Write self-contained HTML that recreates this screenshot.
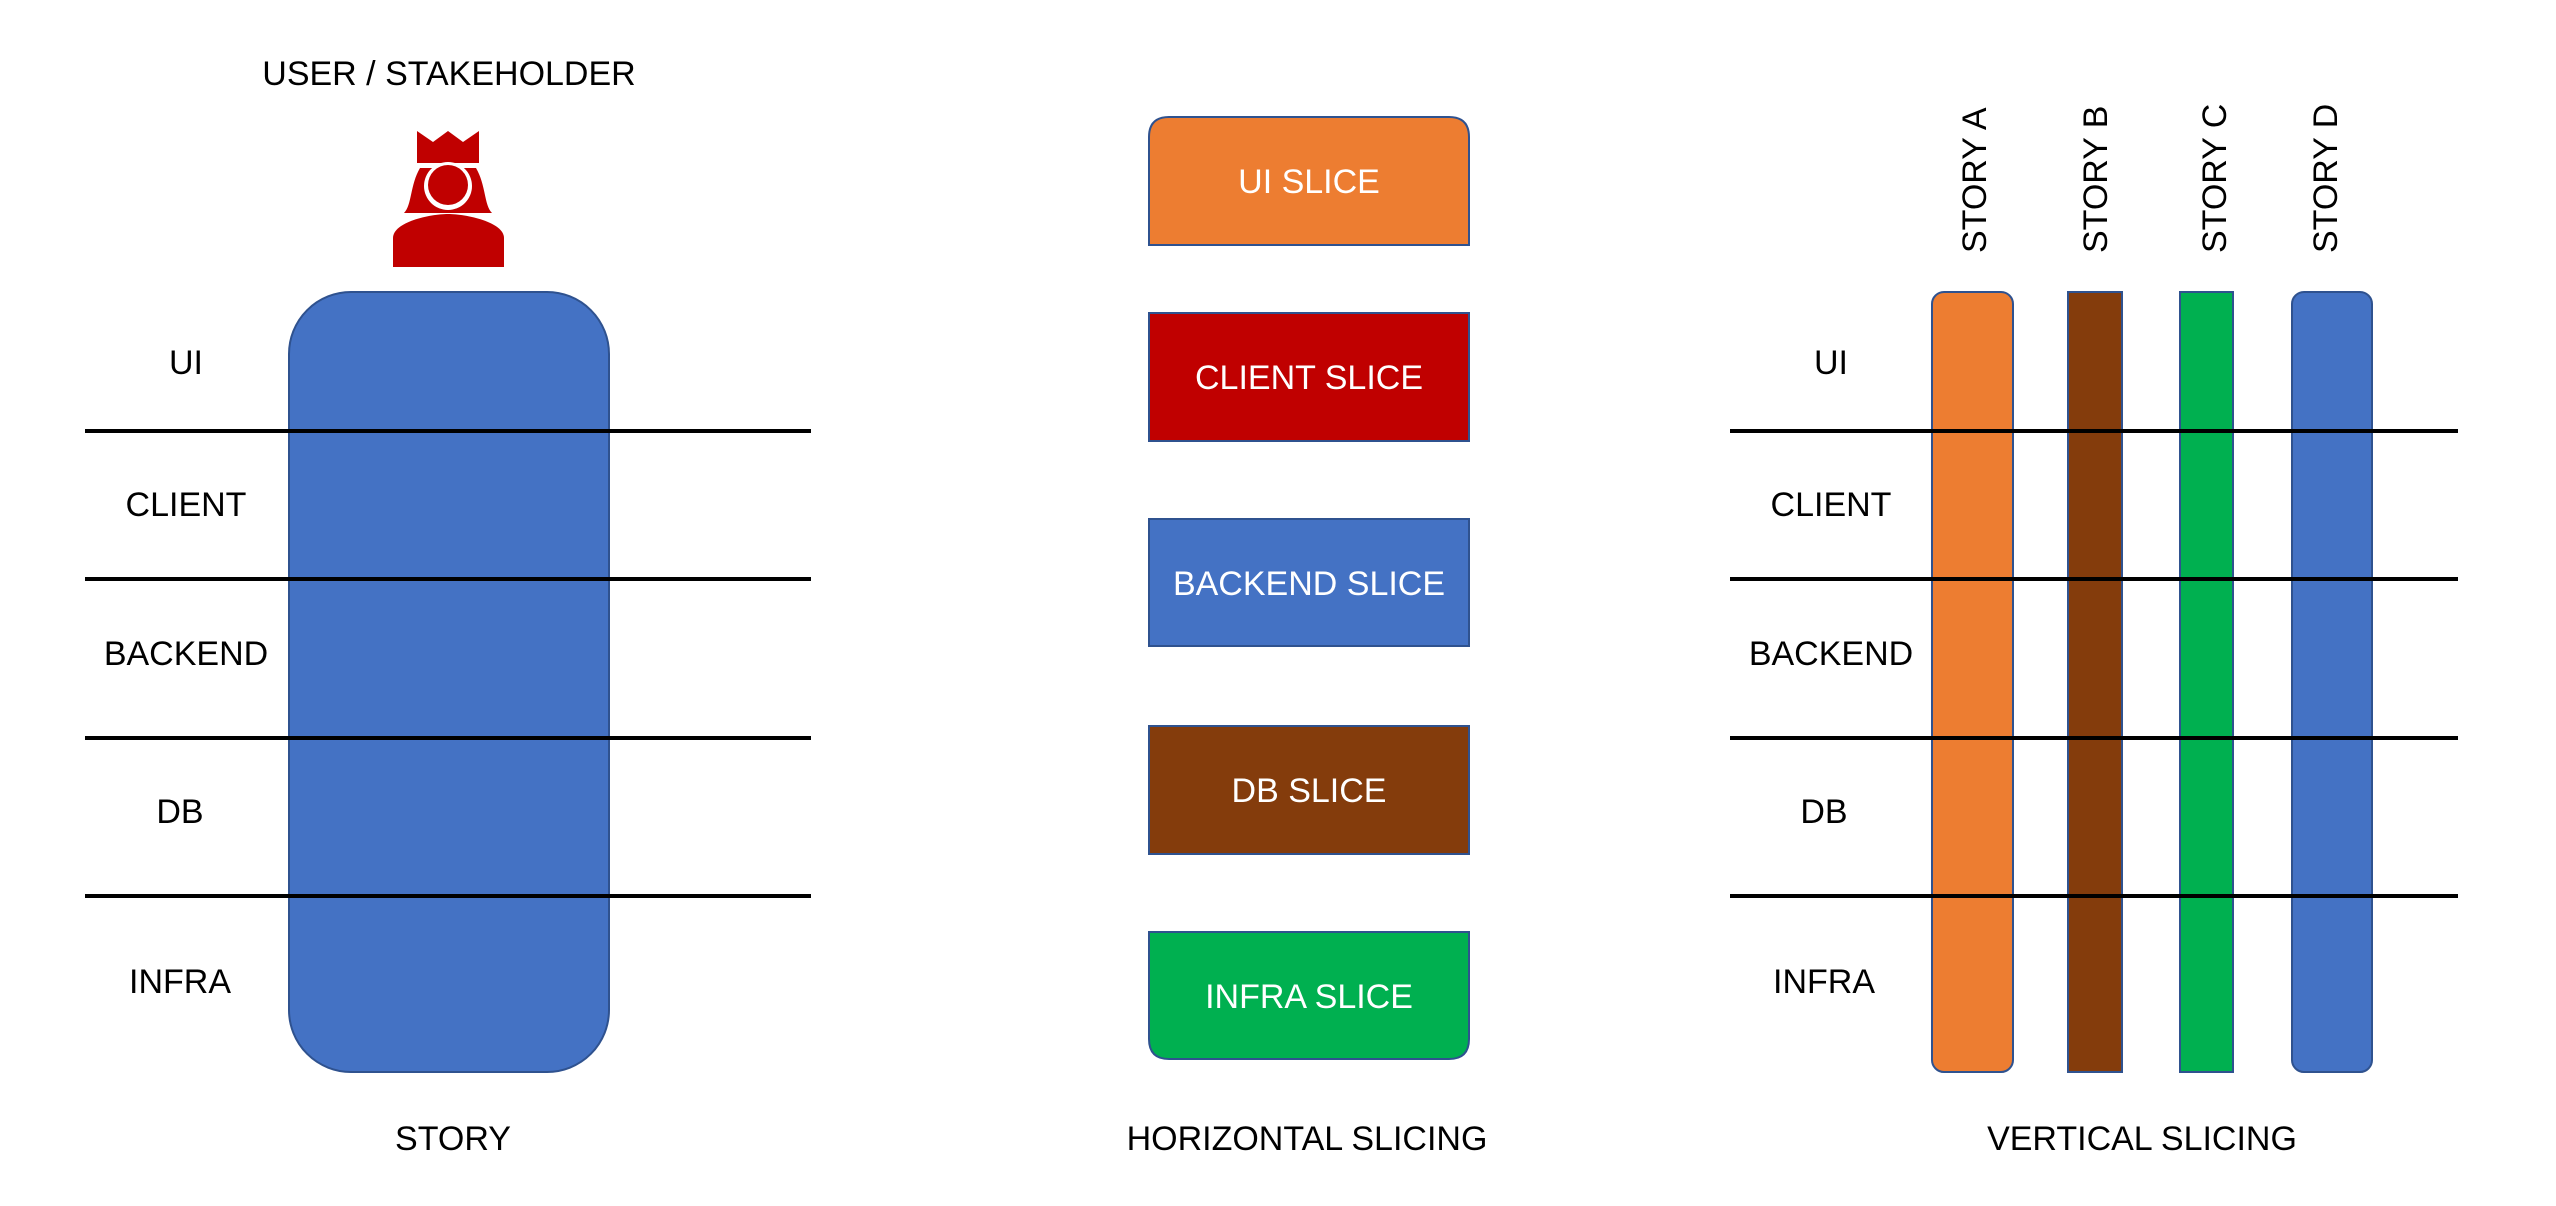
<!DOCTYPE html>
<html><head><meta charset="utf-8"><style>
html,body{margin:0;padding:0;background:#fff;}
svg{display:block;}
text{font-family:"Liberation Sans",sans-serif;font-size:34px;fill:#000;}
.w{fill:#fff;}
</style></head><body>
<svg width="2556" height="1206" viewBox="0 0 2556 1206">
<!-- Left: story -->
<text x="449" y="85" text-anchor="middle">USER / STAKEHOLDER</text>
<g fill="#C00000">
  <polygon points="417,131 433,142 448,131 463,142 479,131 479,163 417,163"/>
  <path d="M420,168 C410,185 412,205 404,213 L492,213 C484,205 486,185 476,168 Z"/>
  <circle cx="448" cy="186" r="24" fill="#fff"/>
  <circle cx="448" cy="185" r="20"/>
  <path d="M393,267 L393,238 C393,222 430,214 448,214 C466,214 504,222 504,238 L504,267 Z"/>
</g>
<rect x="289" y="292" width="320" height="780" rx="62" ry="62" fill="#4472C4" stroke="#2F528F" stroke-width="2"/>
<g stroke="#000" stroke-width="4">
  <line x1="85" y1="431" x2="811" y2="431"/>
  <line x1="85" y1="579" x2="811" y2="579"/>
  <line x1="85" y1="738" x2="811" y2="738"/>
  <line x1="85" y1="896" x2="811" y2="896"/>
</g>
<g text-anchor="middle">
  <text x="186" y="374">UI</text>
  <text x="186" y="516">CLIENT</text>
  <text x="186" y="665">BACKEND</text>
  <text x="180" y="823">DB</text>
  <text x="180" y="993">INFRA</text>
</g>
<text x="453" y="1150" text-anchor="middle">STORY</text>

<!-- Middle: horizontal slices -->
<path d="M1169,117 L1449,117 Q1469,117 1469,137 L1469,245 L1149,245 L1149,137 Q1149,117 1169,117 Z" fill="#ED7D31" stroke="#2F528F" stroke-width="2"/>
<text class="w" x="1309" y="193" text-anchor="middle">UI SLICE</text>
<rect x="1149" y="313" width="320" height="128" fill="#C00000" stroke="#2F528F" stroke-width="2"/>
<text class="w" x="1309" y="389" text-anchor="middle">CLIENT SLICE</text>
<rect x="1149" y="519" width="320" height="127" fill="#4472C4" stroke="#2F528F" stroke-width="2"/>
<text class="w" x="1309" y="595" text-anchor="middle">BACKEND SLICE</text>
<rect x="1149" y="726" width="320" height="128" fill="#843C0C" stroke="#2F528F" stroke-width="2"/>
<text class="w" x="1309" y="802" text-anchor="middle">DB SLICE</text>
<path d="M1149,932 L1469,932 L1469,1039 Q1469,1059 1449,1059 L1169,1059 Q1149,1059 1149,1039 Z" fill="#00B050" stroke="#2F528F" stroke-width="2"/>
<text class="w" x="1309" y="1008" text-anchor="middle">INFRA SLICE</text>
<text x="1307" y="1150" text-anchor="middle">HORIZONTAL SLICING</text>

<!-- Right: vertical slices -->
<rect x="1932" y="292" width="81" height="780" rx="12" ry="12" fill="#ED7D31" stroke="#2F528F" stroke-width="2"/>
<rect x="2068" y="292" width="54" height="780" fill="#843C0C" stroke="#2F528F" stroke-width="2"/>
<rect x="2180" y="292" width="53" height="780" fill="#00B050" stroke="#2F528F" stroke-width="2"/>
<rect x="2292" y="292" width="80" height="780" rx="12" ry="12" fill="#4472C4" stroke="#2F528F" stroke-width="2"/>
<g text-anchor="start">
  <text transform="translate(1986,253) rotate(-90)">STORY A</text>
  <text transform="translate(2107,253) rotate(-90)">STORY B</text>
  <text transform="translate(2226,253) rotate(-90)">STORY C</text>
  <text transform="translate(2337,253) rotate(-90)">STORY D</text>
</g>
<g stroke="#000" stroke-width="4">
  <line x1="1730" y1="431" x2="2458" y2="431"/>
  <line x1="1730" y1="579" x2="2458" y2="579"/>
  <line x1="1730" y1="738" x2="2458" y2="738"/>
  <line x1="1730" y1="896" x2="2458" y2="896"/>
</g>
<g text-anchor="middle">
  <text x="1831" y="374">UI</text>
  <text x="1831" y="516">CLIENT</text>
  <text x="1831" y="665">BACKEND</text>
  <text x="1824" y="823">DB</text>
  <text x="1824" y="993">INFRA</text>
</g>
<text x="2142" y="1150" text-anchor="middle">VERTICAL SLICING</text>
</svg>
</body></html>
